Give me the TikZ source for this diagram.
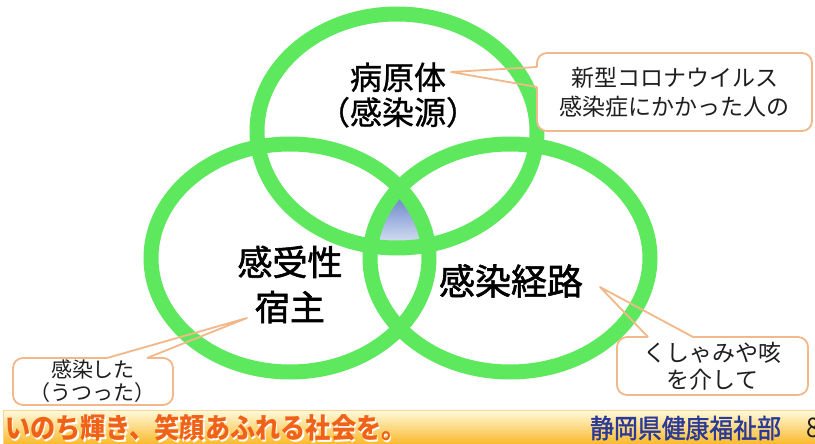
\documentclass[tikz,border=0pt]{standalone}
\usepackage{fontspec}
\setmainfont{Noto Sans CJK JP}
\newfontfamily\medfont[FakeBold=1.6]{Noto Sans CJK JP}
\newfontfamily\semifont[FakeBold=0.9]{Noto Sans CJK JP}
\newfontfamily\bannerfont[FakeStretch=0.9]{Noto Sans CJK JP}
\newfontfamily\deptfont[FakeStretch=0.9,FakeBold=1.5]{Noto Sans CJK JP}
\usetikzlibrary{shapes.geometric}
\definecolor{ringc}{RGB}{94,232,94}
\definecolor{peach}{RGB}{243,184,138}
\definecolor{blueTop}{RGB}{92,122,196}
\definecolor{blueBot}{RGB}{224,233,247}
\definecolor{bannerTop}{RGB}{255,250,222}
\definecolor{bannerBot}{RGB}{250,186,44}
\definecolor{bannerLine}{RGB}{248,214,140}
\definecolor{sloganc}{RGB}{240,98,24}
\definecolor{deptc}{RGB}{42,58,150}
\definecolor{textc}{RGB}{30,30,30}
\tikzset{
  ringnode/.style={ellipse, draw=ringc, line width=15pt, inner sep=0pt, outer sep=0pt},
  biglabel/.style={align=center, text=black},
  calloutbox/.style={draw=peach, line width=1.8pt, fill=white, rounded corners=10pt, align=center, text=textc, inner sep=0pt},
  wedgeline/.style={draw=peach, line width=1.8pt, line join=round},
  wedgegap/.style={draw=white, line width=3pt},
}
\begin{document}
\begin{tikzpicture}[x=1pt,y=-1pt]
\useasboundingbox (0,0) rectangle (815,444);
\fill[white] (0,0) rectangle (815,444);
% triple intersection
\begin{scope}
  \clip (397,131) ellipse [x radius=140pt, y radius=117pt];
  \clip (290,258) ellipse [x radius=139pt, y radius=114pt];
  \clip (510,258) ellipse [x radius=140pt, y radius=114pt];
  \shade[top color=blueTop, bottom color=blueBot] (330,190) rectangle (470,248);
\end{scope}
% rings
\node[ringnode, minimum width=280pt, minimum height=234pt] (src) at (397,131) {};
\node[ringnode, minimum width=278pt, minimum height=228pt] (host) at (290,258) {};
\node[ringnode, minimum width=280pt, minimum height=228pt] (route) at (510,258) {};
% labels
\node[biglabel, font=\semifont\fontsize{32}{35}\selectfont] (srcl) at (398,95) {病原体\\（感染源）};
\node[biglabel, font=\medfont\fontsize{35}{45}\selectfont] (hostl) at (290,284.5) {感受性\\宿主};
\node[biglabel, font=\medfont\fontsize{36}{40}\selectfont] (routel) at (511,281) {感染経路};
% callout 1
\node[calloutbox, minimum width=275pt, minimum height=78pt, font=\fontsize{23}{29}\selectfont] (c1) at (674.5,92) {新型コロナウイルス\\感染症にかかった人の};
\coordinate (c1a) at (537,67);
\coordinate (c1b) at (537,87);
\coordinate (c1t) at (451,72);
\draw[wedgegap] (c1a) -- (c1b);
\draw[wedgeline] (c1a) -- (c1t) -- (c1b);
% callout 2
\node[calloutbox, minimum width=160pt, minimum height=47pt, font=\fontsize{21}{23}\selectfont] (c2) at (93,381.5) {感染した\\（うつった）};
\coordinate (c2a) at (107,358);
\coordinate (c2b) at (147,358);
\coordinate (c2t) at (247,318);
\draw[wedgegap] (c2a) -- (c2b);
\draw[wedgeline] (c2a) -- (c2t) -- (c2b);
% callout 3
\node[calloutbox, minimum width=191pt, minimum height=58pt, font=\fontsize{23}{27}\selectfont] (c3) at (712.5,366) {くしゃみや咳\\を介して};
\coordinate (c3a) at (648,337);
\coordinate (c3b) at (693,337);
\coordinate (c3t) at (600,287);
\draw[wedgegap] (c3a) -- (c3b);
\draw[wedgeline] (c3a) -- (c3t) -- (c3b);
% banner
\shade[top color=bannerTop, bottom color=bannerBot] (3,410) rectangle (815,444);
\draw[bannerLine, line width=1pt] (3,444) -- (3,410.5) -- (815,410.5);
\node[anchor=west, text=white, font=\bannerfont\bfseries\fontsize{28}{28}\selectfont, inner sep=0pt] (sloganshadow) at (6.5,430) {いのち輝き、笑顔あふれる社会を。};
\node[anchor=west, text=sloganc, font=\bannerfont\bfseries\fontsize{28}{28}\selectfont, inner sep=0pt] (slogan) at (5,428) {いのち輝き、笑顔あふれる社会を。};
\node[anchor=west, text=deptc, font=\deptfont\fontsize{26.5}{28}\selectfont, inner sep=0pt] (dept) at (590,428) {静岡県健康福祉部};
\node[anchor=west, text=textc, font=\bannerfont\fontsize{27}{28}\selectfont, inner sep=0pt] (page) at (806,428) {8};
\end{tikzpicture}
\end{document}
